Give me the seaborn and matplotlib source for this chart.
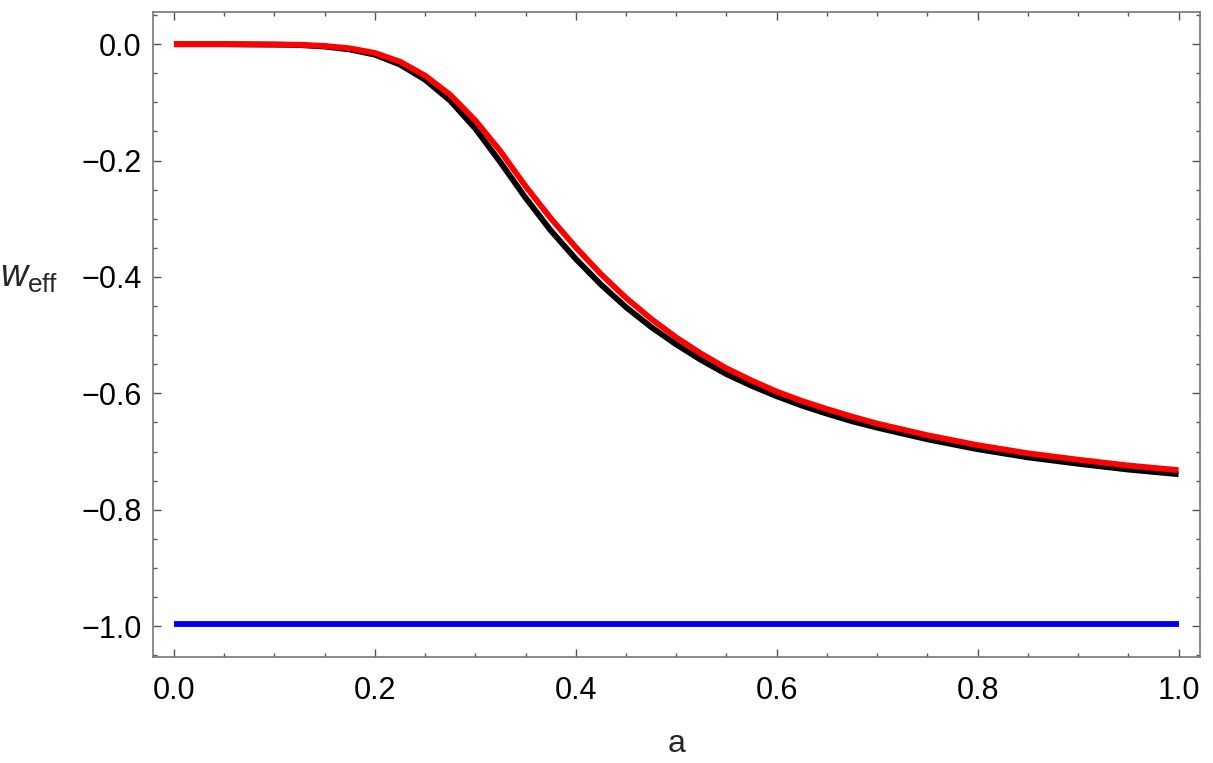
import matplotlib
matplotlib.use("Agg")
import matplotlib.pyplot as plt
import pandas as pd
import seaborn as sns
from matplotlib.ticker import MultipleLocator, FormatStrFormatter, FuncFormatter

# values
a_vals = [0.0, 0.05, 0.10, 0.125, 0.15, 0.175, 0.20, 0.225, 0.25, 0.275, 0.30, 0.325,
          0.35, 0.375, 0.40, 0.425, 0.45, 0.475, 0.50, 0.525, 0.55, 0.575, 0.60,
          0.625, 0.65, 0.675, 0.70, 0.75, 0.80, 0.85, 0.90, 0.95, 1.00]
w_red = [0.0, 0.0, -0.0005, -0.001, -0.003, -0.007, -0.015, -0.030, -0.054, -0.087,
         -0.131, -0.184, -0.244, -0.299, -0.349, -0.395, -0.436, -0.472, -0.504,
         -0.532, -0.557, -0.578, -0.597, -0.613, -0.627, -0.640, -0.652, -0.672,
         -0.689, -0.703, -0.714, -0.724, -0.732]
w_black = [0.0, 0.0, -0.0007, -0.0015, -0.004, -0.009, -0.018, -0.035, -0.061, -0.097,
           -0.145, -0.203, -0.264, -0.320, -0.369, -0.413, -0.452, -0.486, -0.516,
           -0.543, -0.567, -0.587, -0.605, -0.621, -0.635, -0.648, -0.659, -0.679,
           -0.696, -0.710, -0.721, -0.731, -0.739]
w_blue = [-0.996] * len(a_vals)

df = pd.DataFrame({
    "a": a_vals * 3,
    "w": w_black + w_red + w_blue,
    "curve": ["black"] * len(a_vals) + ["red"] * len(a_vals) + ["blue"] * len(a_vals),
})

sns.set_theme(style="ticks")
plt.rcParams["font.family"] = ["Liberation Sans", "DejaVu Sans"]
plt.rcParams["mathtext.fontset"] = "custom"
plt.rcParams["mathtext.rm"] = "Liberation Sans"
plt.rcParams["mathtext.it"] = "Liberation Sans:italic"

fig = plt.figure(figsize=(12.13, 7.63), dpi=100)
ax = fig.add_axes([0.126, 0.139, 0.863, 0.845])

sns.lineplot(data=df, x="a", y="w", hue="curve",
             palette={"black": "black", "red": "#ff0000", "blue": "#0000ff"},
             hue_order=["black", "red", "blue"], linewidth=4.2, legend=False, ax=ax)
for ln in ax.lines:
    ln.set_solid_capstyle("butt")
    ln.set_solid_joinstyle("round")

ax.set_xlim(-0.021, 1.021)
ax.set_ylim(-1.053, 0.055)
ax.xaxis.set_major_locator(MultipleLocator(0.2))
ax.xaxis.set_minor_locator(MultipleLocator(0.05))
ax.yaxis.set_major_locator(MultipleLocator(0.2))
ax.yaxis.set_minor_locator(MultipleLocator(0.05))
ax.xaxis.set_major_formatter(FormatStrFormatter("%.1f"))
ax.yaxis.set_major_formatter(FuncFormatter(
    lambda v, p: ("\u2212%.1f" % abs(v)) if v < -1e-9 else "%.1f" % abs(v)))

ax.tick_params(which="both", direction="in", top=True, right=True,
               color="#555555", width=1, labelsize=22, labelcolor="black")
ax.tick_params(which="major", length=6)
ax.tick_params(which="minor", length=3)
ax.tick_params(axis="x", pad=14)
ax.tick_params(axis="y", pad=8)
for sp in ax.spines.values():
    sp.set_color("#777777")
    sp.set_linewidth(1.2)

ax.set_xlabel("a", fontsize=23, labelpad=16)
ax.set_ylabel(r"$w_{\rm eff}$", fontsize=27, rotation=0, va="center", ha="center")
ax.yaxis.set_label_coords(-0.118, 0.59)

fig.savefig("out.png", dpi=100)
